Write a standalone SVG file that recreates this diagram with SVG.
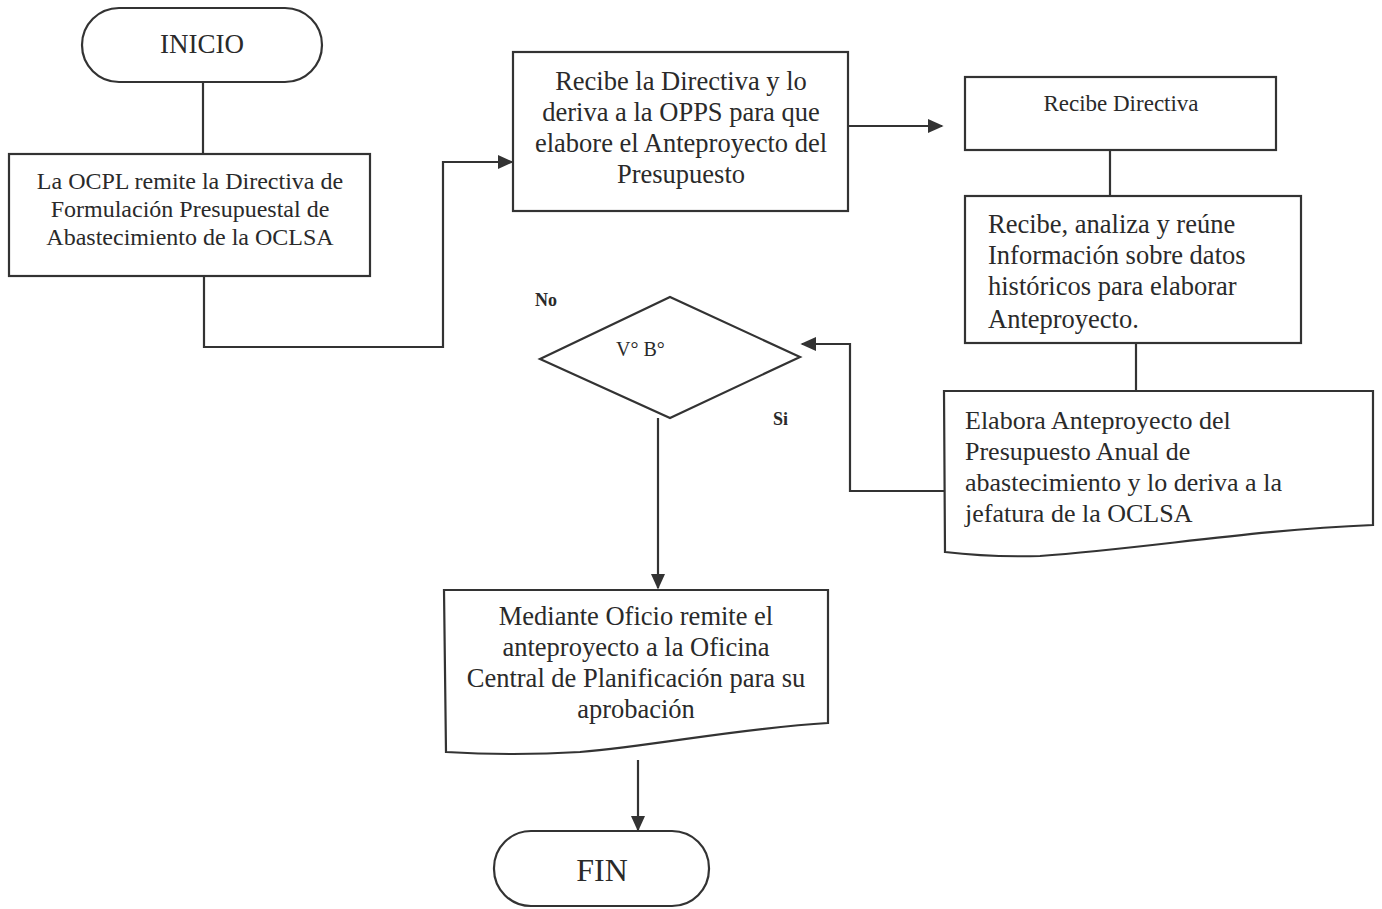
<svg xmlns="http://www.w3.org/2000/svg" width="1382" height="909" viewBox="0 0 1382 909">
<style>
.s{fill:#fff;stroke:#333;stroke-width:2.2}
.c{fill:none;stroke:#333;stroke-width:2.2}
text{font-family:"Liberation Serif","Times New Roman",serif;fill:#2a2a2a}
.m{text-anchor:middle}
</style>
<defs>
<marker id="b" viewBox="0 0 10 10" refX="9" refY="5" markerWidth="16" markerHeight="16" markerUnits="userSpaceOnUse" orient="auto"><path d="M0 0.5L10 5L0 9.5z" fill="#333"/></marker>
</defs>
<rect width="1382" height="909" fill="#fff"/>
<g id="connectors">
<path class="c" d="M203 82V154"/>
<path class="c" d="M204 276V347H443V162H512" marker-end="url(#b)"/>
<path class="c" d="M848 126H942" marker-end="url(#b)"/>
<path class="c" d="M1110 150V196"/>
<path class="c" d="M1136 343V391"/>
<path class="c" d="M944 491H850V344H802" marker-end="url(#b)"/>
<path class="c" d="M658 418V588" marker-end="url(#b)"/>
<path class="c" d="M638 760V830" marker-end="url(#b)"/>
</g>
<g id="inicio">
<rect class="s" x="82" y="8" width="240" height="74" rx="37"/>
<text class="m" x="202" y="53" font-size="27">INICIO</text>
</g>
<g id="n1">
<rect class="s" x="9" y="154" width="361" height="122"/>
<text class="m" font-size="24"><tspan x="190" y="189">La OCPL remite la  Directiva de</tspan><tspan x="190" y="217">Formulación Presupuestal de</tspan><tspan x="190" y="245">Abastecimiento de la OCLSA</tspan></text>
</g>
<g id="n2">
<rect class="s" x="513" y="52" width="335" height="159"/>
<text class="m" font-size="26.5"><tspan x="681" y="90">Recibe la Directiva y lo</tspan><tspan x="681" y="121">deriva a la OPPS para que</tspan><tspan x="681" y="152">elabore el Anteproyecto del</tspan><tspan x="681" y="183">Presupuesto</tspan></text>
</g>
<g id="n3">
<rect class="s" x="965" y="77" width="311" height="73"/>
<text class="m" x="1121" y="111" font-size="23">Recibe Directiva</text>
</g>
<g id="n4">
<rect class="s" x="965" y="196" width="336" height="147"/>
<text font-size="26.5"><tspan x="988" y="233">Recibe, analiza y reúne</tspan><tspan x="988" y="264">Información sobre datos</tspan><tspan x="988" y="295">históricos para elaborar</tspan><tspan x="988" y="328">Anteproyecto.</tspan></text>
</g>
<g id="n5">
<path class="s" d="M944 391H1373V525C1250 530 1150 548 1040 556C1000 557 970 555 945 552Z"/>
<text font-size="26"><tspan x="965" y="429">Elabora Anteproyecto del</tspan><tspan x="965" y="460">Presupuesto Anual de</tspan><tspan x="965" y="491">abastecimiento y lo deriva a  la</tspan><tspan x="965" y="522">jefatura  de la OCLSA</tspan></text>
</g>
<g id="decision">
<path class="s" d="M540 359L670 297L800 357L670 418Z"/>
<text x="616" y="356" font-size="20">V° B°</text>
<text x="535" y="306" font-size="18" font-weight="bold">No</text>
<text x="773" y="425" font-size="18" font-weight="bold">Si</text>
</g>
<g id="n6">
<path class="s" d="M444 590H828V723C740 728 660 745 580 752C530 755 480 754 446 752Z"/>
<text class="m" font-size="26.5"><tspan x="636" y="625">Mediante  Oficio remite el</tspan><tspan x="636" y="656">anteproyecto a la Oficina</tspan><tspan x="636" y="687">Central de Planificación para su</tspan><tspan x="636" y="718">aprobación</tspan></text>
</g>
<g id="fin">
<rect class="s" x="494" y="831" width="215" height="75" rx="37"/>
<text class="m" x="602" y="881" font-size="32">FIN</text>
</g>
</svg>
